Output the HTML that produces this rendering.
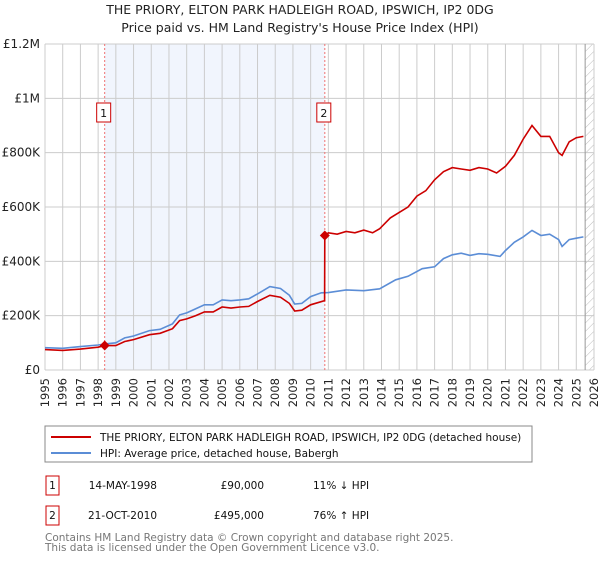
<!DOCTYPE html>
<html><head><meta charset="utf-8"><style>
body{margin:0;background:#fff;font-family:"DejaVu Sans","Liberation Sans",sans-serif;}
svg text{font-family:"DejaVu Sans","Liberation Sans",sans-serif;}
</style></head><body>
<svg id="chart" width="600" height="560" viewBox="0 0 600 560" xmlns="http://www.w3.org/2000/svg">
<defs><pattern id="hatch" width="6" height="6" patternUnits="userSpaceOnUse" patternTransform="rotate(45)"><line x1="0" y1="0" x2="0" y2="6" stroke="#bbb" stroke-width="1"/></pattern></defs>
<text x="300" y="14" text-anchor="middle" font-size="12.5" fill="#222">THE PRIORY, ELTON PARK HADLEIGH ROAD, IPSWICH, IP2 0DG</text>
<text x="300" y="32" text-anchor="middle" font-size="12.5" fill="#222">Price paid vs. HM Land Registry's House Price Index (HPI)</text>
<g id="grid"></g><g id="marks"></g><g id="axes"></g>
<rect x="45" y="426" width="487" height="36" fill="#fff" stroke="#888"/>
<line x1="51" y1="437" x2="91" y2="437" stroke="#cc0000" stroke-width="2"/>
<text x="100" y="441" font-size="10.5" fill="#111">THE PRIORY, ELTON PARK HADLEIGH ROAD, IPSWICH, IP2 0DG (detached house)</text>
<line x1="51" y1="453" x2="91" y2="453" stroke="#5b8dd6" stroke-width="2"/>
<text x="100" y="457" font-size="10.5" fill="#111">HPI: Average price, detached house, Babergh</text>
<g font-size="10.5" fill="#111">
<rect x="46" y="476" width="13" height="19" fill="none" stroke="#cc0000"/>
<text x="52.5" y="489" text-anchor="middle">1</text>
<text x="157" y="489" text-anchor="end">14-MAY-1998</text>
<text x="264" y="489" text-anchor="end">£90,000</text>
<text x="313" y="489">11% ↓ HPI</text>
<rect x="46" y="506" width="13" height="19" fill="none" stroke="#cc0000"/>
<text x="52.5" y="519" text-anchor="middle">2</text>
<text x="157" y="519" text-anchor="end">21-OCT-2010</text>
<text x="264" y="519" text-anchor="end">£495,000</text>
<text x="313" y="519">76% ↑ HPI</text>
</g>
<text x="45" y="541" font-size="10.5" fill="#777">Contains HM Land Registry data © Crown copyright and database right 2025.</text>
<text x="45" y="551" font-size="10.5" fill="#777">This data is licensed under the Open Government Licence v3.0.</text>
</svg>
<script>
const hpiYears=[1995,1996,1997,1998,1998.4,1999,1999.5,2000,2000.9,2001.5,2002.2,2002.6,2003,2003.5,2004,2004.5,2005,2005.5,2006,2006.5,2007,2007.7,2008.3,2008.8,2009.1,2009.5,2010,2010.6,2011,2012,2013,2013.9,2014.8,2015.5,2016.3,2017,2017.5,2018,2018.5,2019,2019.5,2020,2020.7,2021,2021.5,2022,2022.5,2023,2023.5,2024,2024.2,2024.6,2025,2025.4];
const hpiValues=[82,80,86,92,96,100,118,125,145,150,170,203,210,225,240,240,258,255,258,262,280,307,300,275,243,245,270,284,285,295,292,299,332,345,373,380,410,424,430,422,428,426,418,440,470,490,514,495,500,480,455,480,485,490];
const propYears=[1995,1996,1997,1998,1998.37,1999,1999.5,2000,2000.9,2001.5,2002.2,2002.6,2003,2003.5,2004,2004.5,2005,2005.5,2006,2006.5,2007,2007.7,2008.3,2008.8,2009.1,2009.5,2010,2010.79,2010.8,2011,2011.5,2012,2012.5,2013,2013.5,2013.9,2014.5,2015,2015.5,2016,2016.5,2017,2017.5,2018,2018.5,2019,2019.5,2020,2020.5,2021,2021.5,2022,2022.5,2023,2023.5,2024,2024.2,2024.6,2025,2025.4];
const propValues=[75,72,77,84,90,90,105,112,130,135,152,182,188,200,214,214,232,228,232,234,252,275,268,245,217,220,240,255,495,505,500,510,505,515,505,520,560,580,600,640,660,700,730,745,740,735,745,740,725,750,790,850,900,860,860,800,790,840,855,860];
const sales=[{n:'1',t:1998.37,v:90},{n:'2',t:2010.8,v:495}];
const yTicks=[0,200,400,600,800,1000,1200];
const yLabels=['£0','£200K','£400K','£600K','£800K','£1M','£1.2M'];
const xTicks=[];for(let y=1995;y<=2026;y++)xTicks.push(y);
const X0=45,X1=594,Y0=370,Y1=44;
const xs=t=>X0+(t-1995)/(2026-1995)*(X1-X0);
const ys=v=>Y0-v/1200*(Y0-Y1);
const NS='http://www.w3.org/2000/svg';
function mk(p,tag,a){const e=document.createElementNS(NS,tag);for(const k in a)e.setAttribute(k,a[k]);p.appendChild(e);return e;}
const grid=document.getElementById('grid'),marks=document.getElementById('marks'),axes=document.getElementById('axes');
let r=mk(grid,'rect',{x:xs(1998.37),y:Y1,width:xs(2010.8)-xs(1998.37),height:Y0-Y1,fill:'#eef3fc',opacity:0.8});


r=mk(grid,'rect',{x:xs(2025.5),y:Y1,width:X1-xs(2025.5),height:Y0-Y1,fill:'url(#hatch)'});


xTicks.forEach(t=>{const l=mk(grid,'line',{x1:xs(t),x2:xs(t),y1:Y1,y2:Y0,stroke:'#ccc'});


const x=xs(t)+4,y=378;
const tx=mk(axes,'text',{x:x,y:y,'text-anchor':'end','font-size':'11.5',fill:'#222',transform:`rotate(-90 ${x} ${y})`});tx.textContent=t;

});
yTicks.forEach((v,i)=>{const l=mk(grid,'line',{x1:X0,x2:X1,y1:ys(v),y2:ys(v),stroke:'#ccc'});


const tx=mk(axes,'text',{x:40,y:ys(v)+4,'text-anchor':'end','font-size':'12',fill:'#222'});tx.textContent=yLabels[i];

});
const el=mk(grid,'line',{x1:xs(2025.5),x2:xs(2025.5),y1:Y1,y2:Y0,stroke:'#999'});


sales.forEach(s=>{const l=mk(grid,'line',{x1:xs(s.t),x2:xs(s.t),y1:Y1,y2:Y0,stroke:'#f07070','stroke-dasharray':'2,2'});


const b=mk(axes,'rect',{x:xs(s.t)-8,y:103,width:14,height:19,fill:'#fff',stroke:'#cc0000'});


const tx=mk(axes,'text',{x:xs(s.t)-1,y:117,'text-anchor':'middle','font-size':'11',fill:'#111'});tx.textContent=s.n;

});
const pts=(a,b)=>a.map((t,i)=>xs(t).toFixed(1)+','+ys(b[i]).toFixed(1)).join(' ');
const hp=mk(marks,'polyline',{points:pts(hpiYears,hpiValues),fill:'none',stroke:'#5b8dd6','stroke-width':1.6});


const pp=mk(marks,'polyline',{points:pts(propYears,propValues),fill:'none',stroke:'#cc0000','stroke-width':1.6});


sales.forEach(s=>{const x=xs(s.t),y=ys(s.v);const d=mk(marks,'polygon',{points:`${x},${y-5} ${x+5},${y} ${x},${y+5} ${x-5},${y}`,fill:'#cc0000'});

});
</script>
</body></html>
